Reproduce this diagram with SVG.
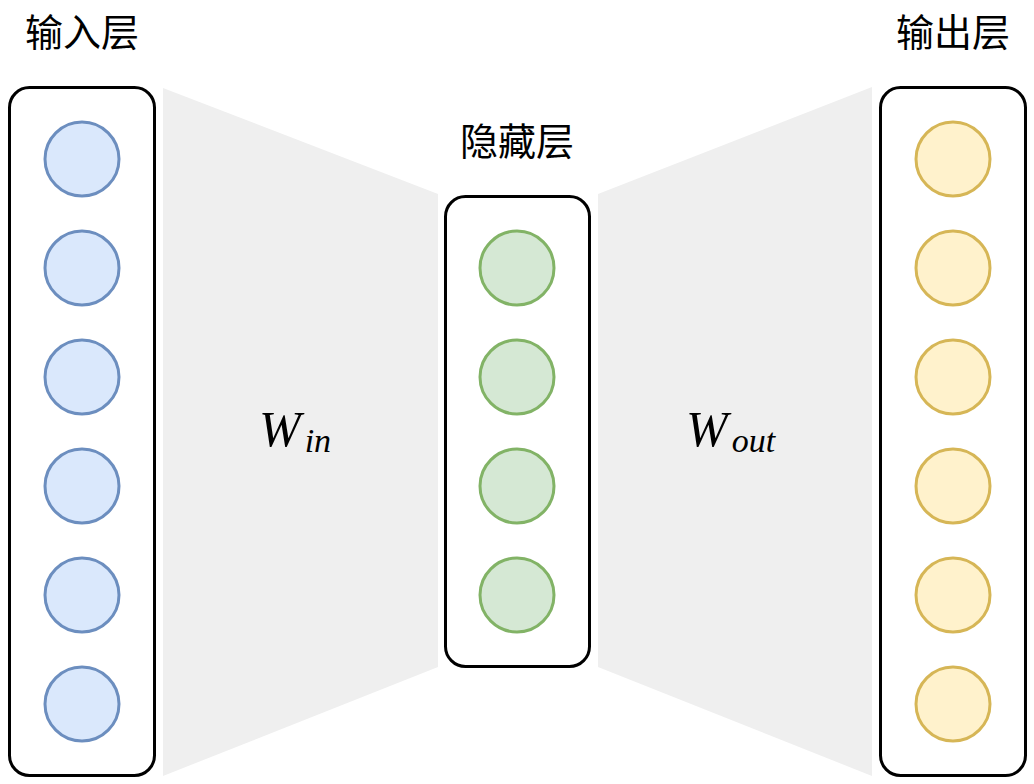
<svg xmlns="http://www.w3.org/2000/svg" width="1034" height="784" viewBox="0 0 1034 784">
<style>
.box{fill:#fff;stroke:#000;stroke-width:3}
.trap{fill:#efefef;stroke:none}
.in{fill:#dae8fc;stroke:#6c8ebf;stroke-width:3}
.hid{fill:#d5e8d4;stroke:#82b366;stroke-width:3}
.out{fill:#fff2cc;stroke:#d6b656;stroke-width:3}
.lbl{font-family:"Noto Sans CJK SC","Noto Sans",sans-serif;font-size:38px;fill:#000;text-anchor:middle}
.math{font-family:"Liberation Serif","DejaVu Serif",serif;font-style:italic;fill:#000}
</style>
<rect width="1034" height="784" fill="#fff"/>
<g id="connectors">
<polygon class="trap" points="163,88 438,194 438,667 163,776"/>
<polygon class="trap" points="598,194 872,87 872,776 598,667"/>
<text class="math" x="259" y="446" font-size="50">W<tspan font-size="34" dx="4" dy="6">in</tspan></text>
<text class="math" x="686" y="446" font-size="50">W<tspan font-size="34" dx="4" dy="6">out</tspan></text>
</g>
<g id="input-layer">
<text class="lbl" x="82" y="46">输入层</text>
<rect class="box" x="9.5" y="87.5" width="145" height="688" rx="20"/>
<circle class="in" cx="82" cy="159" r="37"/>
<circle class="in" cx="82" cy="268" r="37"/>
<circle class="in" cx="82" cy="377" r="37"/>
<circle class="in" cx="82" cy="486" r="37"/>
<circle class="in" cx="82" cy="595" r="37"/>
<circle class="in" cx="82" cy="704" r="37"/>
</g>
<g id="hidden-layer">
<text class="lbl" x="517" y="155">隐藏层</text>
<rect class="box" x="445.5" y="196.5" width="144" height="470" rx="20"/>
<circle class="hid" cx="517" cy="268" r="37"/>
<circle class="hid" cx="517" cy="377" r="37"/>
<circle class="hid" cx="517" cy="486" r="37"/>
<circle class="hid" cx="517" cy="595" r="37"/>
</g>
<g id="output-layer">
<text class="lbl" x="953" y="46">输出层</text>
<rect class="box" x="880.5" y="87.5" width="145" height="688" rx="20"/>
<circle class="out" cx="953" cy="159" r="37"/>
<circle class="out" cx="953" cy="268" r="37"/>
<circle class="out" cx="953" cy="377" r="37"/>
<circle class="out" cx="953" cy="486" r="37"/>
<circle class="out" cx="953" cy="595" r="37"/>
<circle class="out" cx="953" cy="704" r="37"/>
</g>
</svg>
